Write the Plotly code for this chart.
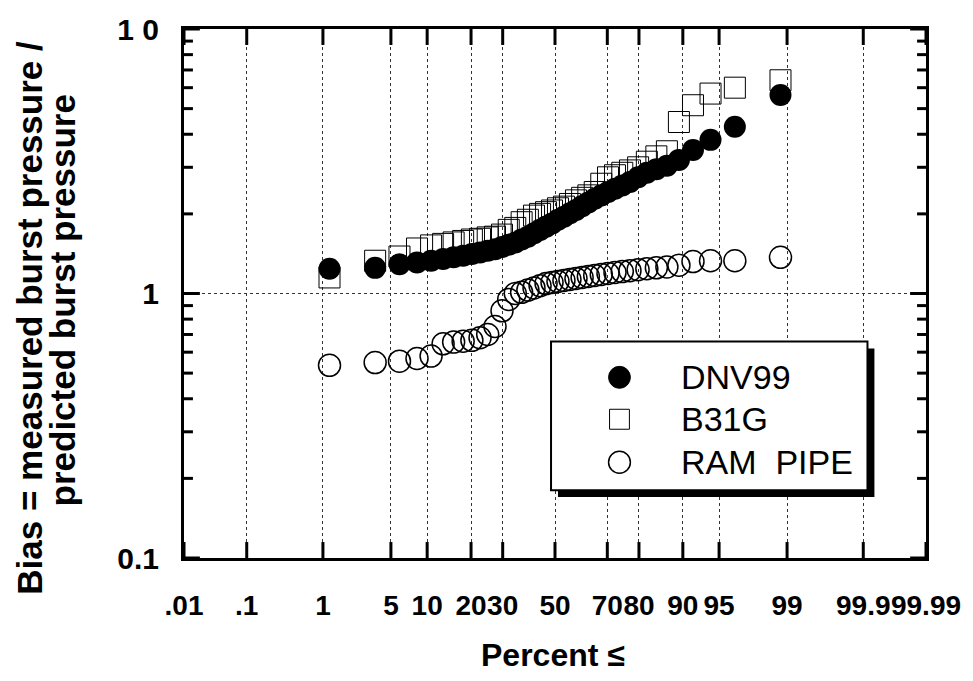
import plotly.graph_objects as go
from statistics import NormalDist

# ---------------- data ----------------
PERCENT = [1.19, 3.57, 5.95, 8.33, 10.71, 13.10, 15.48, 17.86, 20.24, 22.62,
           25.00, 27.38, 29.76, 32.14, 34.52, 36.90, 39.29, 41.67, 44.05, 46.43,
           48.81, 51.19, 53.57, 55.95, 58.33, 60.71, 63.10, 65.48, 67.86, 70.24,
           72.62, 75.00, 77.38, 79.76, 82.14, 84.52, 86.90, 89.29, 91.67, 94.05,
           96.43, 98.81]

DNV99 = [1.24, 1.25, 1.29, 1.31, 1.33, 1.35, 1.37, 1.39, 1.41, 1.43,
         1.45, 1.47, 1.50, 1.53, 1.56, 1.60, 1.64, 1.69, 1.74, 1.79,
         1.84, 1.90, 1.95, 2.01, 2.07, 2.14, 2.21, 2.28, 2.35, 2.42,
         2.49, 2.56, 2.64, 2.75, 2.86, 2.95, 3.04, 3.20, 3.49, 3.81,
         4.27, 5.63]

B31G = [1.15, 1.33, 1.38, 1.48, 1.52, 1.54, 1.56, 1.58, 1.60, 1.61,
        1.63, 1.64, 1.67, 1.74, 1.77, 1.86, 1.90, 1.97, 2.00, 2.03,
        2.06, 2.10, 2.13, 2.18, 2.25, 2.30, 2.35, 2.42, 2.60, 2.75,
        2.80, 2.86, 2.92, 3.00, 3.15, 3.30, 3.45, 4.45, 5.15, 5.70,
        6.00, 6.40]

RAM_PIPE = [0.535, 0.548, 0.555, 0.568, 0.580, 0.645, 0.655, 0.660, 0.665, 0.680,
            0.700, 0.750, 0.860, 0.950, 1.00, 1.01, 1.03, 1.05, 1.07, 1.09,
            1.10, 1.11, 1.12, 1.13, 1.14, 1.15, 1.16, 1.17, 1.18, 1.19,
            1.20, 1.21, 1.22, 1.23, 1.24, 1.25, 1.26, 1.28, 1.32, 1.33,
            1.33, 1.37]

SERIES_NAMES = ["DNV99", "B31G", "RAM\u00a0\u00a0PIPE"]

X_TICK_PCT = [0.01, 0.1, 1, 5, 10, 20, 30, 50, 70, 80, 90, 95, 99, 99.9, 99.99]
X_TICK_TEXT = [".01", ".1", "1", "5", "10", "20", "30", "50", "70", "80", "90",
               "95", "99", "99.9", "99.99"]
Y_TICK_VALS = [0.1, 1, 10]
Y_TICK_TEXT = ["0.1", "1", "1 0"]
Y_MINOR = [0.2, 0.3, 0.4, 0.5, 0.6, 0.7, 0.8, 0.9, 2, 3, 4, 5, 6, 7, 8, 9]

# ---------------- helpers ----------------
ND = NormalDist()


def probit(pct):
    return ND.inv_cdf(pct / 100.0)


X = [probit(p) for p in PERCENT]
XT = [probit(p) for p in X_TICK_PCT]
XMIN, XMAX = probit(0.01), probit(99.99)
YMIN_LOG, YMAX_LOG = -1, 1

# plot-area pixel geometry
L, R, T, B = 184, 932, 28, 558
W, H = R - L, B - T


def px(x):
    return (x - L) / W


def py(y):
    return (B - y) / H


FONT = "Liberation Sans, Arial, Helvetica, sans-serif"
MS = 22

# tick marks drawn as line traces through the axes' own scales
MAJ, MIN_ = 16, 9
dz_per_px = (XMAX - XMIN) / W
dlog_per_px = (YMAX_LOG - YMIN_LOG) / H
tx, ty = [], []
for xv in XT:
    for base, sgn in ((10 ** YMIN_LOG, 1), (10 ** YMAX_LOG, -1)):
        tx += [xv, xv, None]
        ty += [base, base * 10 ** (sgn * MAJ * dlog_per_px), None]
for yv, ln in [(v, MAJ) for v in Y_TICK_VALS] + [(v, MIN_) for v in Y_MINOR]:
    tx += [XMIN, XMIN + ln * dz_per_px, None, XMAX, XMAX - ln * dz_per_px, None]
    ty += [yv, yv, None, yv, yv, None]

fig = go.Figure()
fig.add_trace(go.Scatter(x=tx, y=ty, mode="lines", hoverinfo="skip", showlegend=False,
                         line=dict(color="black", width=3), cliponaxis=False))
fig.add_trace(go.Scatter(x=X, y=B31G, mode="markers", name=SERIES_NAMES[1],
                         marker=dict(symbol="square-open", size=MS - 1, color="black",
                                     line=dict(width=1, color="black"))))
fig.add_trace(go.Scatter(x=X, y=DNV99, mode="markers", name=SERIES_NAMES[0],
                         marker=dict(symbol="circle", size=MS, color="black",
                                     line=dict(width=0))))
fig.add_trace(go.Scatter(x=X, y=RAM_PIPE, mode="markers", name=SERIES_NAMES[2],
                         marker=dict(symbol="circle-open", size=MS, color="black",
                                     line=dict(width=1.5, color="black"))))

fig.update_layout(
    width=973, height=681,
    margin=dict(l=L, r=973 - R, t=T, b=681 - B),
    paper_bgcolor="white", plot_bgcolor="white",
    showlegend=False,
    font=dict(family=FONT, color="black"),
)

fig.update_xaxes(
    range=[XMIN, XMAX], tickvals=XT, ticktext=X_TICK_TEXT, tickangle=0,
    ticks="", showline=True, linewidth=3, linecolor="black", mirror=True,
    showgrid=True, gridcolor="#333333", griddash="dot", gridwidth=1,
    zeroline=False,
    tickfont=dict(family=FONT, size=28, color="black", weight="bold"),
    ticklabelstandoff=20,
)
fig.update_yaxes(
    type="log", range=[YMIN_LOG, YMAX_LOG], tickvals=Y_TICK_VALS, ticktext=Y_TICK_TEXT,
    ticks="", showline=True, linewidth=3, linecolor="black", mirror=True,
    showgrid=True, gridcolor="#333333", griddash="dot", gridwidth=1,
    zeroline=False,
    tickfont=dict(family=FONT, size=30, color="black", weight="bold"),
    ticklabelstandoff=16,
)

# axis titles
fig.add_annotation(text="Percent \u2264", xref="paper", yref="paper",
                   x=px(556), y=py(655), xanchor="center", yanchor="middle",
                   showarrow=False,
                   font=dict(family=FONT, size=32, weight="bold", color="black"))
fig.add_annotation(text="Bias = measured burst pressure /", xref="paper", yref="paper",
                   x=px(28), y=py(317), xanchor="center", yanchor="middle",
                   showarrow=False, textangle=-90,
                   font=dict(family=FONT, size=35, weight="bold", color="black"))
fig.add_annotation(text="predicted burst pressure", xref="paper", yref="paper",
                   x=px(62), y=py(300), xanchor="center", yanchor="middle",
                   showarrow=False, textangle=-90,
                   font=dict(family=FONT, size=35, weight="bold", color="black"))

# legend box with drop shadow
bx0, bx1, by0, by1 = 554, 873, 341, 490
shadow = 7
fig.add_shape(type="rect", xref="paper", yref="paper",
              x0=px(bx0 + shadow), x1=px(bx1 + shadow), y0=py(by1 + shadow), y1=py(by0 + shadow),
              fillcolor="black", line=dict(width=0), layer="above")
fig.add_shape(type="rect", xref="paper", yref="paper",
              x0=px(bx0), x1=px(bx1), y0=py(by1), y1=py(by0),
              fillcolor="white", line=dict(width=2, color="black"), layer="above")

mx = 623
rows = [377, 419, 462]
r = 11
fig.add_shape(type="circle", xref="paper", yref="paper",
              x0=px(mx - r), x1=px(mx + r), y0=py(rows[0] + r), y1=py(rows[0] - r),
              fillcolor="black", line=dict(width=1, color="black"), layer="above")
fig.add_shape(type="rect", xref="paper", yref="paper",
              x0=px(mx - 10), x1=px(mx + 10), y0=py(rows[1] + 10), y1=py(rows[1] - 10),
              fillcolor="white", line=dict(width=1, color="black"), layer="above")
fig.add_shape(type="circle", xref="paper", yref="paper",
              x0=px(mx - r), x1=px(mx + r), y0=py(rows[2] + r), y1=py(rows[2] - r),
              fillcolor="white", line=dict(width=1.5, color="black"), layer="above")
for name, ry in zip(SERIES_NAMES, rows):
    fig.add_annotation(text=name, xref="paper", yref="paper", x=px(683), y=py(ry),
                       xanchor="left", yanchor="middle", showarrow=False,
                       font=dict(family=FONT, size=34, color="black"))

fig.write_html("out.html")
